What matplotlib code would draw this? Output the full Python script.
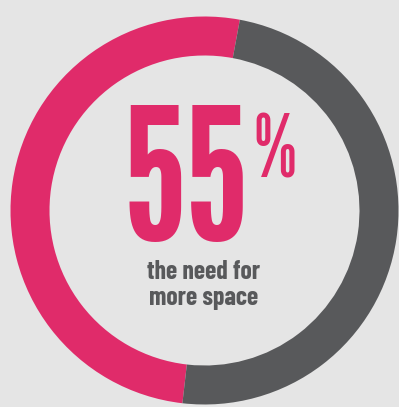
import matplotlib
matplotlib.use("Agg")
import matplotlib.pyplot as plt

# Data
labels = ["need for more space", "other"]
shares = [51.1, 48.9]          # arc shares as drawn in the ring
colors = ["#e02b6a", "#58595b"]
big_value = "55"
subtitle = "the need for\nmore space"

W, H = 399, 407
fig = plt.figure(figsize=(W / 100, H / 100), dpi=100)
bg = "#e5e5e5"
fig.patch.set_facecolor(bg)
ax = fig.add_axes([0, 0, 1, 1])
ax.set_facecolor(bg)

cx, cy = 204.5, H - 210.5
ax.pie(shares, colors=colors, startangle=79.5, counterclock=True,
       radius=194, center=(cx, cy),
       wedgeprops=dict(width=39, linewidth=0))
ax.set_xlim(0, W)
ax.set_ylim(0, H)
ax.set_aspect("equal")
ax.axis("off")

ax.text(186.5, H - 240, big_value, family="League Gothic", fontsize=132,
        color=colors[0], ha="center", va="baseline")
ax.text(253, H - 178, "%", family="League Gothic", fontsize=62,
        color=colors[0], ha="left", va="baseline")
ax.text(203.5, H - 305, subtitle, family="Barlow Condensed", weight="bold",
        fontsize=18.5, color=colors[1], ha="center", va="baseline",
        linespacing=1.12, multialignment="center")

fig.savefig("out.png", dpi=100, facecolor=bg)
